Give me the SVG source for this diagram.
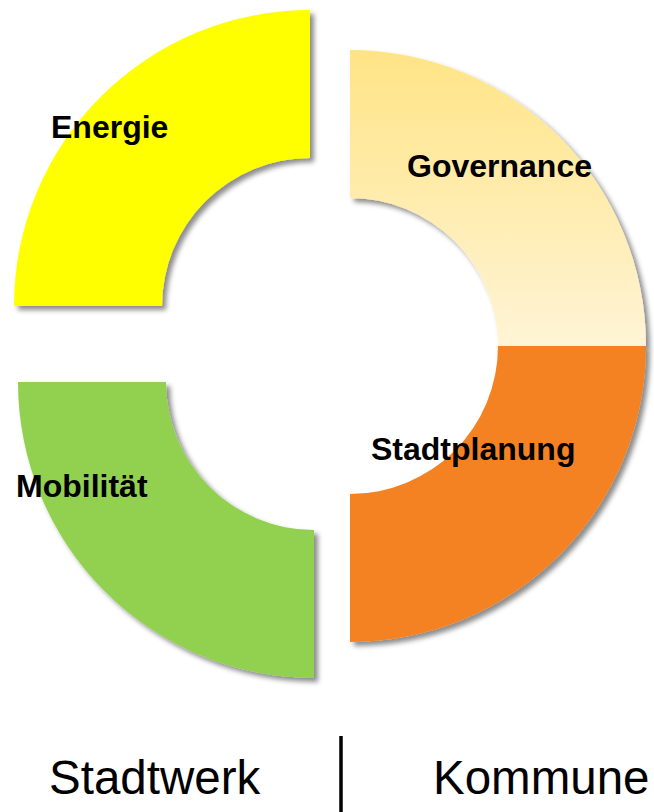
<svg xmlns="http://www.w3.org/2000/svg" width="654" height="812" viewBox="0 0 654 812">
<defs>
<filter id="sh" x="-10%" y="-10%" width="125%" height="125%">
<feDropShadow dx="4" dy="4" stdDeviation="2.5" flood-color="#000" flood-opacity="0.45"/>
</filter>
<linearGradient id="gov" gradientUnits="userSpaceOnUse" x1="0" y1="50" x2="0" y2="346">
<stop offset="0" stop-color="#FFE485"/>
<stop offset="1" stop-color="#FFF4D6"/>
</linearGradient>
<style>
.seg{filter:url(#sh);}
.lbl{font-family:"Liberation Sans",Arial,sans-serif;font-weight:bold;font-size:32px;fill:#000;}
.foot{font-family:"Liberation Sans",Arial,sans-serif;font-size:47.5px;fill:#000;}
</style>
</defs>
<rect width="654" height="812" fill="#fff"/>
<g id="energie">
<path class="seg" d="M14 306 A296 296 0 0 1 310 10 L310 158 A148 148 0 0 0 162 306 Z" fill="#FFFF00"/>
</g>
<g id="governance">
<path class="seg" d="M350 50 A296 296 0 0 1 646 346 L498 346 A148 148 0 0 0 350 198 Z" fill="url(#gov)"/>
</g>
<g id="stadtplanung">
<path class="seg" d="M646 346 A296 296 0 0 1 350 642 L350 494 A148 148 0 0 0 498 346 Z" fill="#F58220"/>
</g>
<g id="mobilitaet">
<path class="seg" d="M18 382 L166 382 A148 148 0 0 0 314 530 L314 678 A296 296 0 0 1 18 382 Z" fill="#92D050"/>
</g>
<g id="labels">
<text class="lbl" x="51" y="138">Energie</text>
<text class="lbl" x="407" y="177">Governance</text>
<text class="lbl" x="371" y="460">Stadtplanung</text>
<text class="lbl" x="16" y="497">Mobilität</text>
</g>
<g id="connectors">
<line x1="341" y1="736" x2="341" y2="812" stroke="#000" stroke-width="3.5"/>
</g>
<g id="footer">
<text class="foot" x="49" y="794">Stadtwerk</text>
<text class="foot" x="433" y="794">Kommune</text>
</g>
</svg>
